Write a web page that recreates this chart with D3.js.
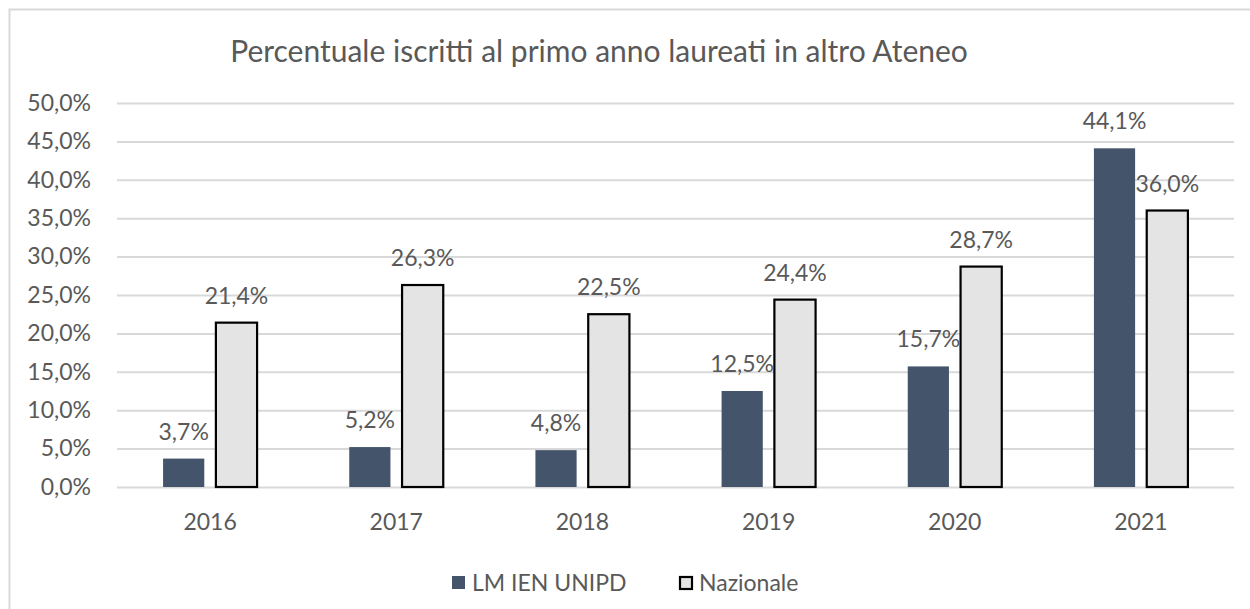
<!DOCTYPE html>
<html><head><meta charset="utf-8">
<script src="https://cdn.jsdelivr.net/npm/d3@7"></script>
<style>body{margin:0;background:#fff;} svg{display:block;}</style>
</head><body>
<svg id="c" width="1250" height="609"></svg>
<script>
const categories = ["2016","2017","2018","2019","2020","2021"];
const seriesNames = ["LM IEN UNIPD","Nazionale"];
const unipd = [3.7, 5.2, 4.8, 12.5, 15.7, 44.1];
const nazionale = [21.4, 26.3, 22.5, 24.4, 28.7, 36.0];
const yTicks = [0,5,10,15,20,25,30,35,40,45,50];
const title = "Percentuale iscritti al primo anno laureati in altro Ateneo";

(function(){
const svg = d3.select("#c");
const font = "Lato, 'Open Sans', sans-serif";
const textCol = "#595959";
const colors = ["#44546a", "#e4e4e4"];
const fs = 23;

svg.append("rect").attr("x",9.5).attr("y",9.5).attr("width",1300).attr("height",700)
  .attr("fill","#fff").attr("stroke","#d9d9d9").attr("stroke-width",2);

const pl = 117, pr = 1234, pt = 103, pb = 487;
const x = d3.scaleBand().domain(categories).range([pl,pr]).paddingInner(0).paddingOuter(0);
const y = d3.scaleLinear().domain([0,50]).range([pb, pt]);
const x1 = d3.scaleBand().domain(seriesNames).range([0, 94]).paddingInner(0.22);

svg.append("text").attr("x",599).attr("y",62).attr("text-anchor","middle")
  .attr("font-family",font).attr("font-size",30).attr("fill",textCol).text(title);

const yAxis = d3.axisLeft(y).tickValues(yTicks).tickSize(-(pr-pl))
  .tickFormat(d => d.toFixed(1).replace(".",",") + "%");
const gy = svg.append("g").attr("transform",`translate(${pl},0)`).call(yAxis);
gy.select(".domain").remove();
gy.selectAll(".tick line").attr("stroke","#d9d9d9").attr("stroke-width",2);
gy.selectAll(".tick text").attr("x",-26).attr("font-family",font).attr("font-size",fs).attr("fill",textCol);

const xAxis = d3.axisBottom(x).tickSize(0);
const gx = svg.append("g").attr("transform",`translate(0,${pb})`).call(xAxis);
gx.select(".domain").remove();
gx.selectAll(".tick text").attr("y",43).attr("dy",0).attr("font-family",font).attr("font-size",fs).attr("fill",textCol);

const data = categories.map((c,i)=>({cat:c, vals:[
  {s:seriesNames[0], v:unipd[i]}, {s:seriesNames[1], v:nazionale[i]}]}));
const groups = svg.selectAll("g.grp").data(data).join("g").attr("class","grp")
  .attr("transform", d => `translate(${x(d.cat) + x.bandwidth()/2 - 47},0)`);
groups.selectAll("rect").data(d=>d.vals).join("rect")
  .attr("x", d=>x1(d.s)).attr("width", x1.bandwidth())
  .attr("y", d=>y(d.v)).attr("height", d=>y(0)-y(d.v))
  .attr("fill", (d,i)=>colors[i])
  .attr("stroke", (d,i)=> i===1 ? "#000" : "none").attr("stroke-width", 2.2);
groups.selectAll("text").data(d=>d.vals).join("text")
  .attr("x", d=>x1(d.s)+x1.bandwidth()/2)
  .attr("y", d=>y(d.v)-19).attr("text-anchor","middle")
  .attr("font-family",font).attr("font-size",fs).attr("fill",textCol)
  .text(d=>d.v.toFixed(1).replace(".",",")+"%");

const leg = svg.append("g").attr("transform","translate(452,582.5)");
const items = [{n:seriesNames[0], x:0},{n:seriesNames[1], x:227}];
items.forEach((it,i)=>{
  leg.append("rect").attr("x",it.x+(i?1:0)).attr("y",i?-5.5:-6.5).attr("width",i?12:13).attr("height",i?12:13)
    .attr("fill",colors[i]).attr("stroke",i?"#000":"none").attr("stroke-width",2.2);
  leg.append("text").attr("x",it.x+20).attr("y",8)
    .attr("font-family",font).attr("font-size",fs).attr("fill",textCol).text(it.n);
});
})();
</script>
</body></html>
